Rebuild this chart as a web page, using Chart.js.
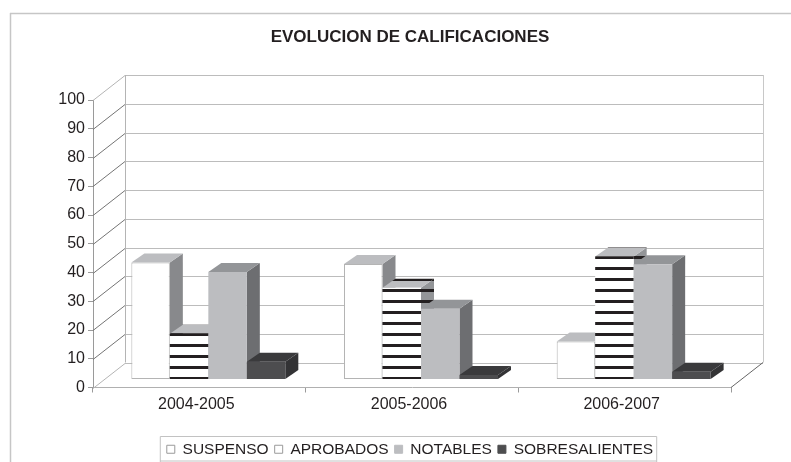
<!DOCTYPE html>
<html>
<head>
<meta charset="utf-8">
<style>
  html, body { margin: 0; padding: 0; background: #fff; }
  #wrap { width: 791px; height: 462px; }
</style>
<script src="https://cdn.jsdelivr.net/npm/chart.js@4"></script>
</head>
<body>
<div id="wrap"><canvas id="chart" width="791" height="462"></canvas></div>
<script>
// --- Data ---
const categories = ['2004-2005', '2005-2006', '2006-2007'];
const suspenso = [40.7, 40.2, 13.2];
const aprobados = [15.9, 31.9, 42.8];
const notables = [37.4, 24.6, 40.1];
const sobresalientes = [6.2, 1.6, 2.7];

// --- 3D look ---
const wallDepth = { x: 32, y: -25 };  // front plane -> back wall
const barShift = { x: 9, y: -8 };     // front plane -> front of the bars
const barDepth = { x: 13, y: -9 };

// white/gray block with a black stripe, repeats every 11px like the original
function stripes(base) {
    const c = document.createElement('canvas');
    c.width = 8;
    c.height = 11;
    const g = c.getContext('2d');
    g.fillStyle = base;
    g.fillRect(0, 0, 8, 11);
    g.fillStyle = '#231f20';
    g.fillRect(0, 0, 8, 3);
    return g.createPattern(c, 'repeat');
}

const faces = [
    { top: '#bcbdc0', side: '#88898c' },
    { top: stripes('#bcbdc0'), side: stripes('#939598') },
    { top: '#939598', side: '#6d6e71' },
    { top: '#3a3a3c', side: '#333335' }
];

function line(ctx, x1, y1, x2, y2, color, width) {
    ctx.beginPath();
    ctx.moveTo(x1, y1);
    ctx.lineTo(x2, y2);
    ctx.strokeStyle = color;
    ctx.lineWidth = width || 1;
    ctx.stroke();
}

function poly(ctx, pts, fill) {
    ctx.beginPath();
    pts.forEach((p, i) => i ? ctx.lineTo(p[0], p[1]) : ctx.moveTo(p[0], p[1]));
    ctx.closePath();
    ctx.fillStyle = fill;
    ctx.fill();
}

const box3d = {
    id: 'box3d',
    beforeDraw(chart) {
        // outer frame of the pasted picture
        const ctx = chart.ctx;
        line(ctx, 10.5, 13, 10.5, 462, '#c6c6c6', 1.5);
        line(ctx, 10, 13.5, 791, 13.5, '#c6c6c6', 1.5);
    },
    beforeDatasetsDraw(chart) {
        const ctx = chart.ctx;
        const area = chart.chartArea;
        const y = chart.scales.y;
        const bx = area.left + wallDepth.x;
        const ex = area.right + wallDepth.x;

        // walls and floor
        y.ticks.forEach(t => {
            const py = Math.round(y.getPixelForValue(t.value)) + 0.5;
            const isFloor = t.value === 0;
            line(ctx, bx, py + wallDepth.y, ex, py + wallDepth.y, '#bcbcbc');
            line(ctx, area.left, py, bx, py + wallDepth.y, isFloor || t.value === 100 ? '#b4b4b4' : '#747474');
        });
        const top = y.getPixelForValue(100) + wallDepth.y;
        const bottom = y.getPixelForValue(0) + wallDepth.y;
        line(ctx, bx + 0.5, top, bx + 0.5, bottom, '#b4b4b4');
        line(ctx, ex + 0.5, top, ex + 0.5, bottom, '#c8c8c8');
        line(ctx, area.right, bottom - wallDepth.y, ex, bottom, '#666666');

        // bars go left to right so each one covers the side of the previous one
        ctx.save();
        ctx.translate(barShift.x, barShift.y);
        chart.getSortedVisibleDatasetMetas().forEach((meta, i) => {
            const face = faces[i];
            const d = barDepth;
            meta.data.forEach(el => {
                const l = el.x - el.width / 2;
                const r = el.x + el.width / 2;
                poly(ctx, [[r, el.y], [r + d.x, el.y + d.y], [r + d.x, el.base + d.y], [r, el.base]], face.side);
                poly(ctx, [[l, el.y], [l + d.x, el.y + d.y], [r + d.x, el.y + d.y], [r, el.y]], face.top);
                el.draw(ctx);
            });
        });
        ctx.restore();
    },
    beforeDatasetDraw() {
        return false; // already drawn above
    },
    afterDraw(chart) {
        // box round the legend
        const boxes = chart.legend.legendHitBoxes;
        const last = boxes[boxes.length - 1];
        const x1 = boxes[0].left - 6.5;
        const x2 = last.left + last.width + 3.5;
        const yTop = Math.round(chart.legend.top) + 0.5;
        const ctx = chart.ctx;
        line(ctx, x1, yTop, x2, yTop, '#c2c2c2');
        line(ctx, x1, yTop, x1, 462, '#c2c2c2');
        line(ctx, x2, yTop, x2, 462, '#c2c2c2');
        line(ctx, x1, 461, x2, 461, '#c2c2c2');
    }
};

const textColor = '#231f20';
const font = { family: '"Liberation Sans", Arial, sans-serif', size: 16 };

new Chart(document.getElementById('chart'), {
    type: 'bar',
    plugins: [box3d],
    data: {
        labels: categories,
        datasets: [
            { label: 'SUSPENSO', data: suspenso, backgroundColor: '#ffffff', borderColor: '#b4b4b4', borderWidth: 1, borderSkipped: false },
            { label: 'APROBADOS', data: aprobados, backgroundColor: stripes('#ffffff'), borderWidth: 0 },
            { label: 'NOTABLES', data: notables, backgroundColor: '#bcbdc0', borderWidth: 0 },
            { label: 'SOBRESALIENTES', data: sobresalientes, backgroundColor: '#4d4d4f', borderWidth: 0 }
        ]
    },
    options: {
        responsive: false,
        animation: false,
        categoryPercentage: 0.724,
        barPercentage: 1,
        layout: { padding: { left: 29, right: 0, top: 0, bottom: -5 } },
        scales: {
            x: {
                grid: { offset: true, drawOnChartArea: false, color: '#9a9a9a', tickLength: 5 },
                border: { color: '#b0b0b0' },
                ticks: { color: textColor, font: font, padding: 2, labelOffset: -3, maxRotation: 0 },
                afterFit(scale) { scale.height = 48; }
            },
            y: {
                min: 0,
                max: 100,
                ticks: { stepSize: 10, color: textColor, font: font, padding: 3 },
                grid: { drawOnChartArea: false, color: '#9a9a9a', tickLength: 5 },
                border: { color: '#9a9a9a' },
                afterFit(scale) { scale.width = 64; }
            },
            // keeps the right margin without pulling the title off centre
            spacer: {
                position: 'right',
                display: true,
                grid: { display: false },
                border: { display: false },
                ticks: { display: false },
                afterFit(scale) { scale.width = 60; }
            }
        },
        plugins: {
            tooltip: { enabled: false },
            title: {
                display: true,
                text: 'EVOLUCION DE CALIFICACIONES',
                color: textColor,
                font: { family: font.family, size: 17, weight: 'bold' },
                padding: { top: 27, bottom: 52.6 }
            },
            legend: {
                position: 'bottom',
                labels: {
                    color: textColor,
                    font: { family: font.family, size: 15.5 },
                    boxWidth: 8,
                    boxHeight: 8,
                    padding: 6,
                    generateLabels(chart) {
                        const items = Chart.defaults.plugins.legend.labels.generateLabels(chart);
                        items.forEach((item, i) => {
                            if (i === 1) item.fillStyle = '#ffffff';
                            item.strokeStyle = i < 2 ? '#9a9a9a' : item.fillStyle;
                            item.lineWidth = 1;
                        });
                        return items;
                    }
                }
            }
        }
    }
});
</script>
</body>
</html>
